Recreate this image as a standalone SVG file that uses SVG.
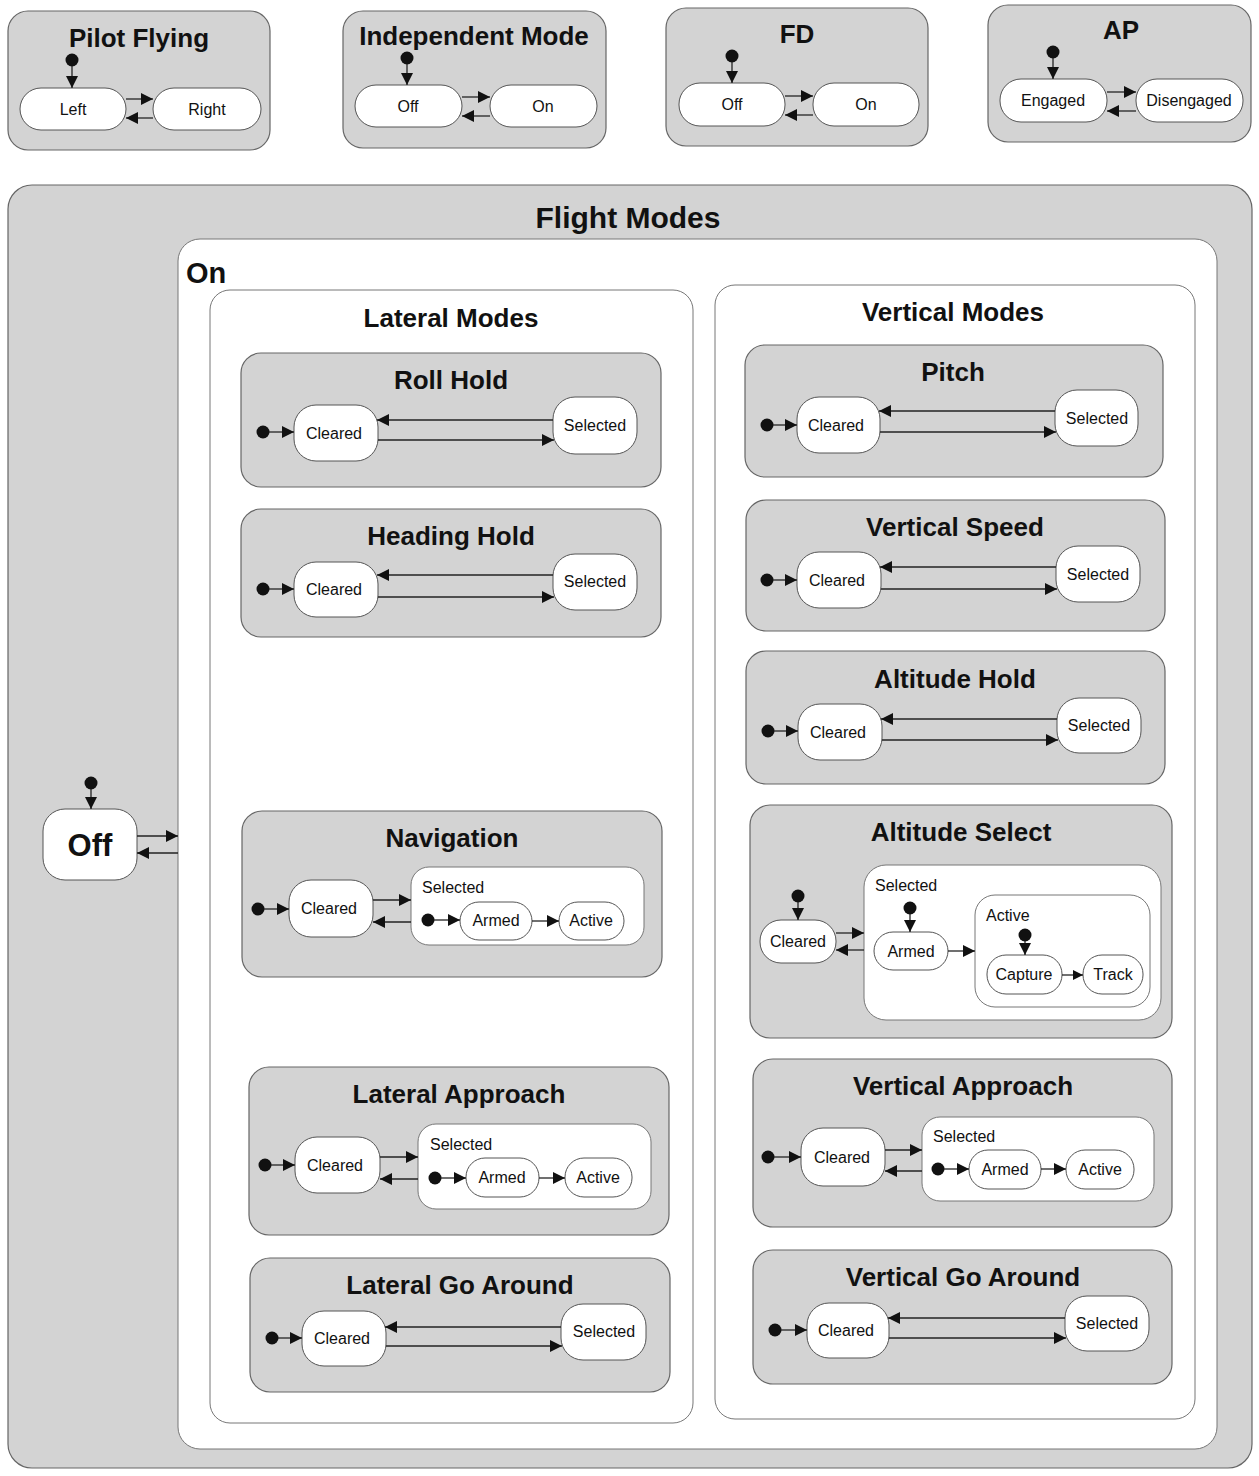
<svg xmlns="http://www.w3.org/2000/svg" width="1259" height="1476" viewBox="0 0 1259 1476">
<defs>
<marker id="ah" markerUnits="userSpaceOnUse" markerWidth="13" markerHeight="12" refX="12" refY="6" orient="auto"><path d="M0,0 L12,6 L0,12 z" fill="#111"/></marker>
<marker id="ahs" markerUnits="userSpaceOnUse" markerWidth="11" markerHeight="10" refX="10" refY="5" orient="auto"><path d="M0,0 L10,5 L0,10 z" fill="#111"/></marker>
</defs>
<style>
text{font-family:"Liberation Sans",Arial,Helvetica,sans-serif;fill:#111}
.g{fill:#d3d3d3;stroke:#666;stroke-width:1.2}
.w{fill:#fff;stroke:#777;stroke-width:1}
.p{fill:#fff;stroke:#555;stroke-width:1}
.t{font-size:26px;font-weight:bold;text-anchor:middle}
.big{font-size:31px;font-weight:bold}
.s{font-size:16px;text-anchor:middle}
.sl{font-size:16px}
.d{fill:#111}
.c line{stroke:#222;stroke-width:1.3;marker-end:url(#ah)}
.c line.sm{marker-end:url(#ahs)}
</style>

<!-- Top independent charts -->
<g id="pilot-flying">
<rect class="g" x="8" y="11" width="262" height="139" rx="20"/>
<text class="t" x="139" y="47">Pilot Flying</text>
<circle class="d" cx="72" cy="60" r="6.5"/>
<g id="pf-left"><rect class="p" x="20" y="88" width="106" height="42" rx="21"/><text class="s" x="73" y="115">Left</text></g>
<g id="pf-right"><rect class="p" x="153" y="88" width="108" height="42" rx="21"/><text class="s" x="207" y="115">Right</text></g>
</g>

<g id="independent-mode">
<rect class="g" x="343" y="11" width="263" height="137" rx="20"/>
<text class="t" x="474" y="45">Independent Mode</text>
<circle class="d" cx="407" cy="58" r="6.5"/>
<g id="im-off"><rect class="p" x="355" y="85" width="107" height="42" rx="21"/><text class="s" x="408" y="112">Off</text></g>
<g id="im-on"><rect class="p" x="490" y="85" width="107" height="42" rx="21"/><text class="s" x="543" y="112">On</text></g>
</g>

<g id="fd">
<rect class="g" x="666" y="8" width="262" height="138" rx="20"/>
<text class="t" x="797" y="43">FD</text>
<circle class="d" cx="732" cy="56" r="6.5"/>
<g id="fd-off"><rect class="p" x="679" y="83" width="106" height="43" rx="21"/><text class="s" x="732" y="110">Off</text></g>
<g id="fd-on"><rect class="p" x="813" y="83" width="106" height="43" rx="21"/><text class="s" x="866" y="110">On</text></g>
</g>

<g id="ap">
<rect class="g" x="988" y="5" width="263" height="137" rx="20"/>
<text class="t" x="1121" y="39">AP</text>
<circle class="d" cx="1053" cy="52" r="6.5"/>
<g id="ap-engaged"><rect class="p" x="1000" y="79" width="107" height="43" rx="21"/><text class="s" x="1053" y="106">Engaged</text></g>
<g id="ap-disengaged"><rect class="p" x="1136" y="79" width="107" height="43" rx="21"/><text class="s" x="1189" y="106">Disengaged</text></g>
</g>

<!-- Flight Modes -->
<g id="flight-modes">
<rect class="g" x="8" y="185" width="1244" height="1283" rx="24"/>
<text class="t" x="628" y="228" style="font-size:30px">Flight Modes</text>
<circle class="d" cx="91" cy="783" r="6.5"/>
<g id="fm-off"><rect class="p" x="43" y="809" width="94" height="71" rx="22"/><text class="big" x="90" y="856" text-anchor="middle">Off</text></g>

<g id="fm-on">
<rect class="w" x="178" y="239" width="1039" height="1210" rx="22"/>
<text class="big" x="186" y="283" style="font-size:29px">On</text>

<g id="lateral-modes">
<rect class="w" x="210" y="290" width="483" height="1133" rx="20" stroke="#999"/>
<text class="t" x="451" y="327">Lateral Modes</text>

<g id="roll-hold">
<rect class="g" x="241" y="353" width="420" height="134" rx="20"/>
<text class="t" x="451" y="389">Roll Hold</text>
<circle class="d" cx="263" cy="432" r="6.5"/>
<g id="rh-cleared"><rect class="p" x="294" y="405" width="84" height="56" rx="22"/><text class="s" x="334" y="439">Cleared</text></g>
<g id="rh-selected"><rect class="p" x="553" y="397" width="84" height="57" rx="22"/><text class="s" x="595" y="431">Selected</text></g>
</g>

<g id="heading-hold">
<rect class="g" x="241" y="509" width="420" height="128" rx="20"/>
<text class="t" x="451" y="545">Heading Hold</text>
<circle class="d" cx="263" cy="589" r="6.5"/>
<g id="hh-cleared"><rect class="p" x="294" y="562" width="84" height="55" rx="22"/><text class="s" x="334" y="595">Cleared</text></g>
<g id="hh-selected"><rect class="p" x="553" y="554" width="84" height="56" rx="22"/><text class="s" x="595" y="587">Selected</text></g>
</g>

<g id="navigation">
<rect class="g" x="242" y="811" width="420" height="166" rx="20"/>
<text class="t" x="452" y="847">Navigation</text>
<circle class="d" cx="258" cy="909" r="6.5"/>
<g id="nav-cleared"><rect class="p" x="289" y="880" width="84" height="57" rx="22"/><text class="s" x="329" y="914">Cleared</text></g>
<g id="nav-selected"><rect class="w" x="411" y="867" width="233" height="78" rx="18"/><text class="sl" x="422" y="893">Selected</text>
<circle class="d" cx="428" cy="920" r="6.5"/>
<g id="nav-armed"><rect class="p" x="460" y="902" width="72" height="38" rx="19"/><text class="s" x="496" y="926">Armed</text></g>
<g id="nav-active"><rect class="p" x="559" y="902" width="65" height="38" rx="19"/><text class="s" x="591" y="926">Active</text></g>
</g>
</g>

<g id="lateral-approach">
<rect class="g" x="249" y="1067" width="420" height="168" rx="20"/>
<text class="t" x="459" y="1103">Lateral Approach</text>
<circle class="d" cx="265" cy="1165" r="6.5"/>
<g id="la-cleared"><rect class="p" x="295" y="1137" width="85" height="56" rx="22"/><text class="s" x="335" y="1171">Cleared</text></g>
<g id="la-selected"><rect class="w" x="418" y="1124" width="233" height="85" rx="18"/><text class="sl" x="430" y="1150">Selected</text>
<circle class="d" cx="435" cy="1178" r="6.5"/>
<g id="la-armed"><rect class="p" x="466" y="1158" width="73" height="39" rx="19"/><text class="s" x="502" y="1183">Armed</text></g>
<g id="la-active"><rect class="p" x="565" y="1158" width="67" height="39" rx="19"/><text class="s" x="598" y="1183">Active</text></g>
</g>
</g>

<g id="lateral-go-around">
<rect class="g" x="250" y="1258" width="420" height="134" rx="20"/>
<text class="t" x="460" y="1294">Lateral Go Around</text>
<circle class="d" cx="272" cy="1338" r="6.5"/>
<g id="lga-cleared"><rect class="p" x="302" y="1311" width="84" height="55" rx="22"/><text class="s" x="342" y="1344">Cleared</text></g>
<g id="lga-selected"><rect class="p" x="561" y="1304" width="85" height="56" rx="22"/><text class="s" x="604" y="1337">Selected</text></g>
</g>
</g>

<g id="vertical-modes">
<rect class="w" x="715" y="285" width="480" height="1134" rx="20" stroke="#999"/>
<text class="t" x="953" y="321">Vertical Modes</text>

<g id="pitch">
<rect class="g" x="745" y="345" width="418" height="132" rx="20"/>
<text class="t" x="953" y="381">Pitch</text>
<circle class="d" cx="767" cy="425" r="6.5"/>
<g id="p-cleared"><rect class="p" x="797" y="397" width="83" height="56" rx="22"/><text class="s" x="836" y="431">Cleared</text></g>
<g id="p-selected"><rect class="p" x="1055" y="390" width="83" height="56" rx="22"/><text class="s" x="1097" y="424">Selected</text></g>
</g>

<g id="vertical-speed">
<rect class="g" x="746" y="500" width="419" height="131" rx="20"/>
<text class="t" x="955" y="536">Vertical Speed</text>
<circle class="d" cx="767" cy="580" r="6.5"/>
<g id="vs-cleared"><rect class="p" x="797" y="552" width="84" height="56" rx="22"/><text class="s" x="837" y="586">Cleared</text></g>
<g id="vs-selected"><rect class="p" x="1056" y="546" width="84" height="56" rx="22"/><text class="s" x="1098" y="580">Selected</text></g>
</g>

<g id="altitude-hold">
<rect class="g" x="746" y="651" width="419" height="133" rx="20"/>
<text class="t" x="955" y="688">Altitude Hold</text>
<circle class="d" cx="768" cy="731" r="6.5"/>
<g id="ah-cleared"><rect class="p" x="798" y="704" width="84" height="56" rx="22"/><text class="s" x="838" y="738">Cleared</text></g>
<g id="ah-selected"><rect class="p" x="1057" y="698" width="84" height="55" rx="22"/><text class="s" x="1099" y="731">Selected</text></g>
</g>

<g id="altitude-select">
<rect class="g" x="750" y="805" width="422" height="233" rx="20"/>
<text class="t" x="961" y="841">Altitude Select</text>
<circle class="d" cx="798" cy="896" r="6.5"/>
<g id="as-cleared"><rect class="p" x="760" y="920" width="76" height="43" rx="21"/><text class="s" x="798" y="947">Cleared</text></g>
<g id="as-selected"><rect class="w" x="864" y="865" width="297" height="155" rx="22"/><text class="sl" x="875" y="891">Selected</text>
<circle class="d" cx="910" cy="908" r="6.5"/>
<g id="as-armed"><rect class="p" x="874" y="932" width="74" height="38" rx="19"/><text class="s" x="911" y="957">Armed</text></g>
<g id="as-active"><rect class="w" x="975" y="895" width="175" height="112" rx="20"/><text class="sl" x="986" y="921">Active</text>
<circle class="d" cx="1025" cy="935" r="6.5"/>
<g id="as-capture"><rect class="p" x="987" y="955" width="75" height="39" rx="19"/><text class="s" x="1024" y="980">Capture</text></g>
<g id="as-track"><rect class="p" x="1083" y="955" width="60" height="39" rx="19"/><text class="s" x="1113" y="980">Track</text></g>
</g>
</g>
</g>

<g id="vertical-approach">
<rect class="g" x="753" y="1059" width="419" height="168" rx="20"/>
<text class="t" x="963" y="1095">Vertical Approach</text>
<circle class="d" cx="768" cy="1157" r="6.5"/>
<g id="va-cleared"><rect class="p" x="801" y="1128" width="84" height="58" rx="22"/><text class="s" x="842" y="1163">Cleared</text></g>
<g id="va-selected"><rect class="w" x="922" y="1117" width="232" height="84" rx="18"/><text class="sl" x="933" y="1142">Selected</text>
<circle class="d" cx="938" cy="1169" r="6.5"/>
<g id="va-armed"><rect class="p" x="969" y="1150" width="72" height="39" rx="19"/><text class="s" x="1005" y="1175">Armed</text></g>
<g id="va-active"><rect class="p" x="1066" y="1150" width="68" height="39" rx="19"/><text class="s" x="1100" y="1175">Active</text></g>
</g>
</g>

<g id="vertical-go-around">
<rect class="g" x="753" y="1250" width="419" height="134" rx="20"/>
<text class="t" x="963" y="1286">Vertical Go Around</text>
<circle class="d" cx="775" cy="1330" r="6.5"/>
<g id="vga-cleared"><rect class="p" x="807" y="1303" width="82" height="55" rx="22"/><text class="s" x="846" y="1336">Cleared</text></g>
<g id="vga-selected"><rect class="p" x="1065" y="1296" width="84" height="55" rx="22"/><text class="s" x="1107" y="1329">Selected</text></g>
</g>
</g>
</g>
</g>

<!-- Connectors -->
<g id="connectors" class="c">
<line x1="72" y1="66" x2="72" y2="88"/>
<line x1="126" y1="99" x2="153" y2="99"/>
<line x1="153" y1="118" x2="126" y2="118"/>
<line x1="407" y1="64" x2="407" y2="85"/>
<line x1="462" y1="97" x2="490" y2="97"/>
<line x1="490" y1="116" x2="462" y2="116"/>
<line x1="732" y1="62" x2="732" y2="83"/>
<line x1="785" y1="96" x2="813" y2="96"/>
<line x1="813" y1="115" x2="785" y2="115"/>
<line x1="1053" y1="58" x2="1053" y2="79"/>
<line x1="1107" y1="92" x2="1136" y2="92"/>
<line x1="1136" y1="111" x2="1107" y2="111"/>
<line x1="91" y1="789" x2="91" y2="809"/>
<line x1="137" y1="836" x2="178" y2="836"/>
<line x1="178" y1="853" x2="137" y2="853"/>
<line x1="269" y1="432" x2="294" y2="432"/>
<line x1="553" y1="420" x2="377" y2="420"/>
<line x1="378" y1="440" x2="554" y2="440"/>
<line x1="269" y1="589" x2="294" y2="589"/>
<line x1="553" y1="575" x2="377" y2="575"/>
<line x1="378" y1="597" x2="554" y2="597"/>
<line x1="264" y1="909" x2="289" y2="909"/>
<line x1="373" y1="900" x2="411" y2="900"/>
<line x1="411" y1="922" x2="373" y2="922"/>
<line x1="434" y1="920" x2="460" y2="920"/>
<line x1="532" y1="921" x2="559" y2="921"/>
<line x1="271" y1="1165" x2="295" y2="1165"/>
<line x1="380" y1="1157" x2="418" y2="1157"/>
<line x1="418" y1="1179" x2="380" y2="1179"/>
<line x1="441" y1="1178" x2="466" y2="1178"/>
<line x1="539" y1="1178" x2="565" y2="1178"/>
<line x1="278" y1="1338" x2="302" y2="1338"/>
<line x1="561" y1="1327" x2="385" y2="1327"/>
<line x1="386" y1="1346" x2="562" y2="1346"/>
<line x1="773" y1="425" x2="797" y2="425"/>
<line x1="1055" y1="411" x2="879" y2="411"/>
<line x1="880" y1="432" x2="1056" y2="432"/>
<line x1="773" y1="580" x2="797" y2="580"/>
<line x1="1056" y1="567" x2="880" y2="567"/>
<line x1="881" y1="589" x2="1057" y2="589"/>
<line x1="774" y1="731" x2="798" y2="731"/>
<line x1="1057" y1="719" x2="881" y2="719"/>
<line x1="882" y1="740" x2="1058" y2="740"/>
<line x1="798" y1="902" x2="798" y2="920"/>
<line x1="836" y1="933" x2="864" y2="933"/>
<line x1="864" y1="950" x2="836" y2="950"/>
<line x1="910" y1="914" x2="910" y2="932"/>
<line x1="948" y1="951" x2="975" y2="951"/>
<line x1="1025" y1="941" x2="1025" y2="955"/>
<line class="sm" x1="1062" y1="975" x2="1083" y2="975"/>
<line x1="774" y1="1157" x2="801" y2="1157"/>
<line x1="885" y1="1150" x2="922" y2="1150"/>
<line x1="922" y1="1171" x2="885" y2="1171"/>
<line x1="944" y1="1169" x2="969" y2="1169"/>
<line x1="1041" y1="1169" x2="1066" y2="1169"/>
<line x1="781" y1="1330" x2="807" y2="1330"/>
<line x1="1065" y1="1318" x2="888" y2="1318"/>
<line x1="889" y1="1338" x2="1066" y2="1338"/>
</g>
</svg>
